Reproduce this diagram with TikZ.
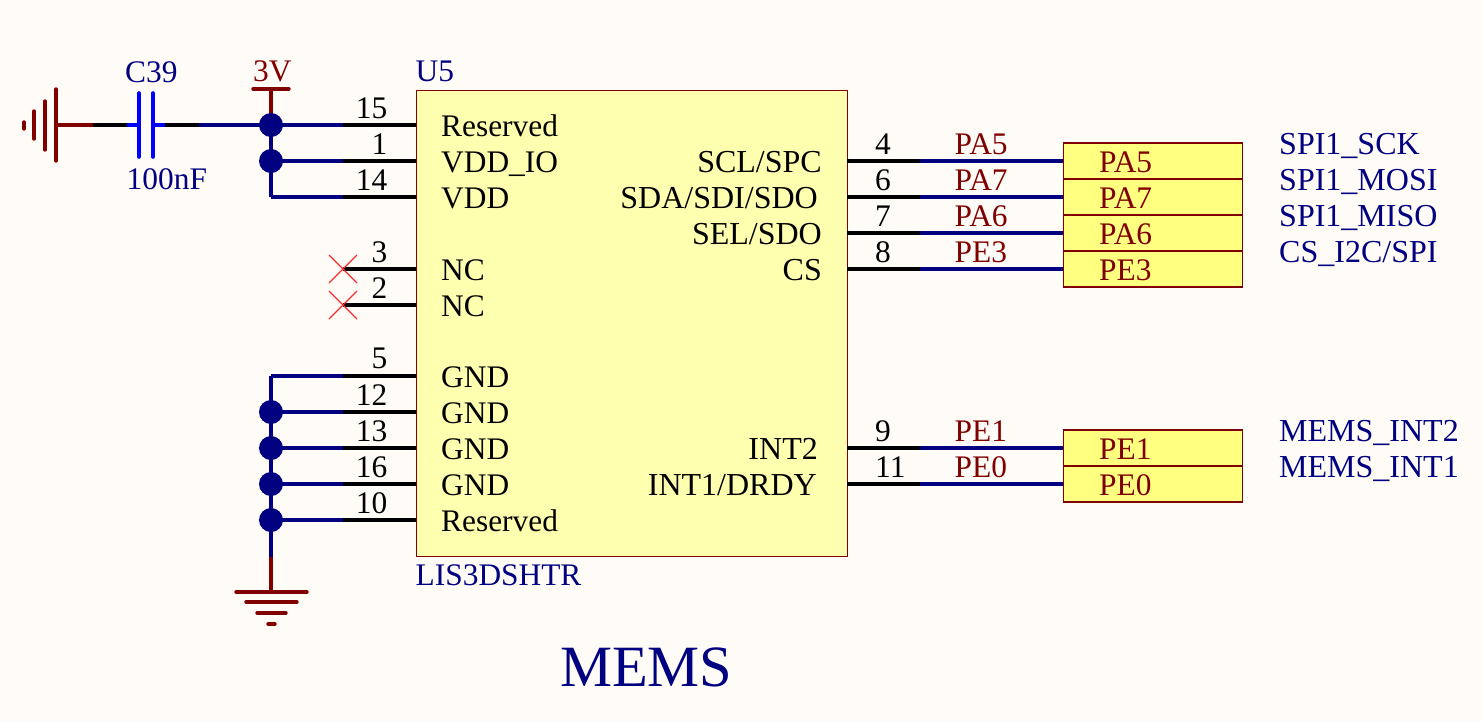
\documentclass[tikz,border=0pt]{standalone}
\usepackage{fontspec}
\setmainfont{Liberation Serif}
\definecolor{paper}{HTML}{FFFCF8}
\definecolor{chipfill}{HTML}{FFFFB0}
\definecolor{portfill}{HTML}{FFFF80}
\definecolor{darkred}{HTML}{800000}
\definecolor{netblue}{HTML}{000080}
\definecolor{capblue}{HTML}{0000FF}
\definecolor{ncred}{HTML}{F03030}
\tikzset{
  txt/.style={inner sep=0pt, anchor=base west, font=\fontsize{31.4}{31.4}\selectfont},
  rtxt/.style={txt, anchor=base east},
  widetxt/.style={font=\fontsize{32}{32}\selectfont},
  bluetxt/.style={txt, text=netblue},
  redtxt/.style={txt, text=darkred},
  chip/.style={draw=darkred, fill=chipfill, line width=1.2pt, inner sep=0pt, anchor=north west, minimum width=431pt, minimum height=466.5pt},
  portbox/.style={draw=darkred, fill=portfill, line width=1.5pt, inner sep=0pt, minimum width=179pt, minimum height=36pt, anchor=west},
  pin/.style={line width=3.4pt, black},
  wire/.style={line width=3.4pt, netblue},
  power/.style={line width=3.4pt, darkred, line cap=round},
  plate/.style={line width=3.6pt, capblue, line cap=round},
  junction/.style={circle, fill=netblue, inner sep=0pt, minimum size=24pt},
  nc/.style={line width=1.2pt, ncred}
}
\begin{document}
\begin{tikzpicture}[x=1pt, y=-1pt]
\fill[paper] (0,0) rectangle (1482,721);
\useasboundingbox (0,0) rectangle (1482,721);
\node[chip] (u5) at (415.5,89.5) {};
\node[txt, text=netblue] (u5ref) at (415.5,81) {U5};
\node[txt, text=netblue] (u5val) at (415.5,585) {LIS3DSHTR};
\node[txt, text=netblue, font=\fontsize{58.5}{58.5}\selectfont] (title) at (560,686) {MEMS};
% left pins
\foreach \n/\y/\ny/\nm in {15/125/118/Reserved,1/161/154/VDD\_IO,14/197/190/VDD,3/269/262/NC,2/305/298/NC,5/376/368/GND,12/412/405/GND,13/448/441/GND,16/484/477/GND,10/520/513/Reserved}{
  \coordinate (a\n) at (415.5,\y);
  \coordinate (b\n) at (343,\y);
  \coordinate (c\n) at (271,\y);
  \draw[pin] (b\n) -- (a\n);
  \node[rtxt] (num\n) at (387.5,\ny) {\n};
  \node[txt] (name\n) at (441,\y+11) {\nm};
}
% right pins with net labels and ports
\foreach \n/\y/\nm/\ex/\net/\sig in {4/161/{SCL/SPC}/822/PA5/SPI1\_SCK,6/197/{SDA/SDI/SDO}/818/PA7/SPI1\_MOSI,7/233/{SEL/SDO}/822/PA6/SPI1\_MISO,8/269/CS/822/PE3/{CS\_I2C/SPI},9/448/INT2/818/PE1/MEMS\_INT2,11/484/{INT1/DRDY}/817/PE0/MEMS\_INT1}{
  \coordinate (a\n) at (847,\y);
  \coordinate (b\n) at (920,\y);
  \node[portbox] (port\n) at (1062.5,\y) {};
  \draw[pin] (a\n) -- (b\n);
  \draw[wire] (b\n) -- (port\n.west);
  \node[txt] (num\n) at (875,\y-7) {\n};
  \node[rtxt, widetxt] (name\n) at (\ex,\y+11) {\nm};
  \node[redtxt] (net\n) at (954.5,\y-7) {\net};
  \node[redtxt] (portname\n) at (1099,\y+11) {\net};
  \node[bluetxt, widetxt] (sig\n) at (1279,\y-7) {\sig};
}
% vdd side
\foreach \n in {15,1,14,12,13,16,10,5}{
  \draw[wire] (c\n) -- (b\n);
}
\draw[wire] (c15) -- (c14);
\draw[wire, line cap=butt] (c5) -- (c10);
\coordinate (vcc) at (271,89);
\coordinate (gndtop) at (271,557);
\coordinate (gndbar) at (271,592);
\draw[wire] (c10) -- (gndtop);
\draw[power, line cap=butt] (gndtop) -- (gndbar);
\draw[power, line cap=butt] (c15) -- (vcc);
\draw[power] (253,89) -- (289,89);
\node[redtxt] (vlabel) at (253,81) {3V};
\draw[power] (236,592) -- (307,592);
\draw[power] (246,602) -- (297,602);
\draw[power] (257,613) -- (286,613);
\draw[power] (268,624) -- (275,624);
\foreach \n in {15,1,12,13,16,10}{
  \node[junction] (j\n) at (c\n) {};
}
% no connect
\foreach \n in {3,2}{
  \draw[nc] ([shift={(-14,-14)}]b\n) -- ([shift={(14,14)}]b\n);
  \draw[nc] ([shift={(-14,14)}]b\n) -- ([shift={(14,-14)}]b\n);
}
% capacitor
\coordinate (gl) at (56,125);
\coordinate (gm) at (93,125);
\coordinate (cl) at (127,125);
\coordinate (pl) at (139,125);
\coordinate (pr) at (153,125);
\coordinate (cr) at (165,125);
\coordinate (cw) at (199,125);
\draw[power, line cap=butt] (gl) -- (gm);
\draw[pin] (gm) -- (cl);
\draw[plate, line cap=butt] (cl) -- (pl);
\draw[plate, line cap=butt] (pr) -- (cr);
\draw[pin] (cr) -- (cw);
\draw[wire] (cw) -- (c15);
\draw[plate] (139,93) -- (139,157);
\draw[plate] (153,93) -- (153,157);
\draw[power] (56,89) -- (56,161);
\draw[power] (45,101) -- (45,150);
\draw[power] (34,111) -- (34,139);
\draw[power] (24,122) -- (24,129);
\node[bluetxt] (cref) at (125,82) {C39};
\node[bluetxt] (cval) at (126.5,189) {100nF};
\end{tikzpicture}
\end{document}
